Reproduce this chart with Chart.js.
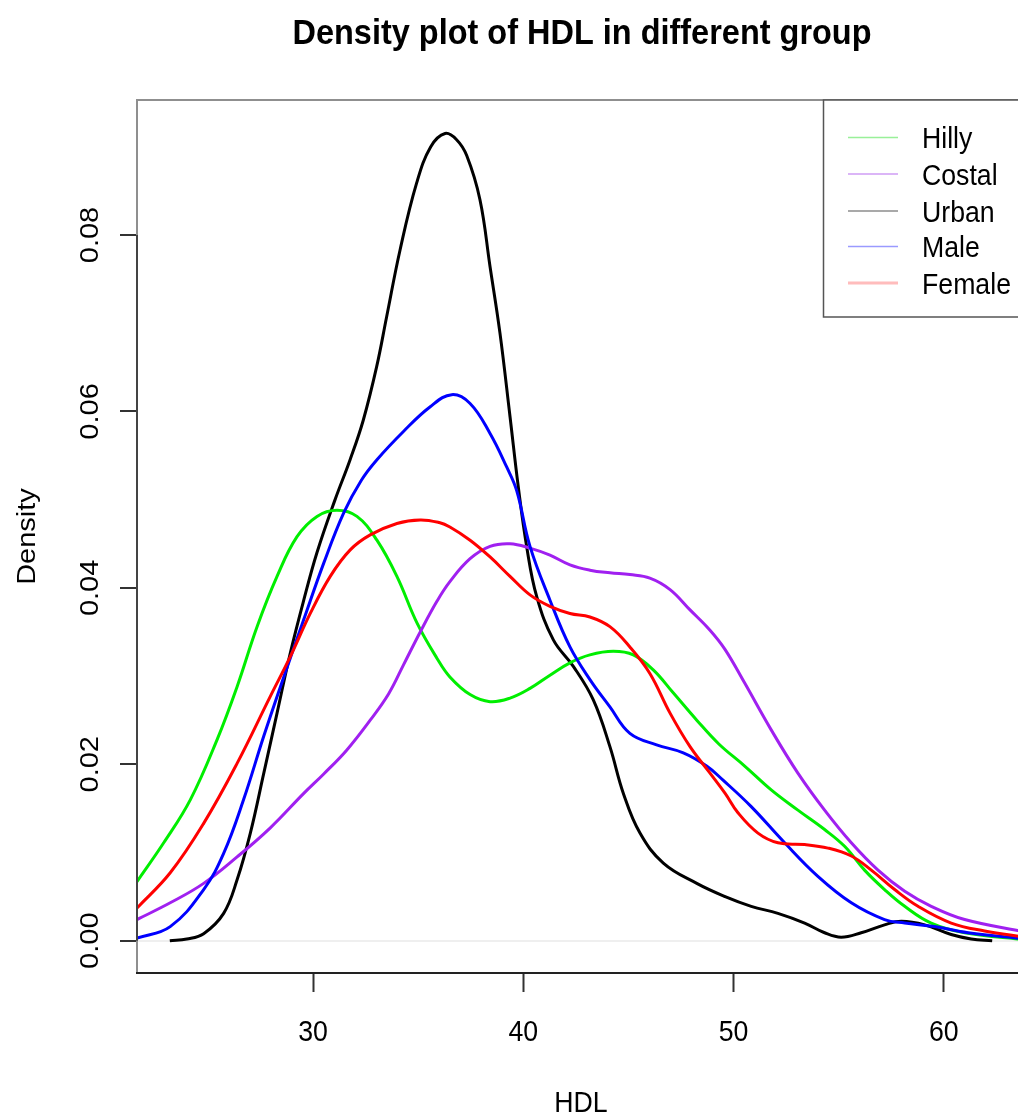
<!DOCTYPE html>
<html>
<head>
<meta charset="utf-8">
<script src="https://cdn.jsdelivr.net/npm/chart.js@4/dist/chart.umd.min.js"></script>
<style>
  html, body { margin: 0; padding: 0; background: #fff; overflow: hidden; }
  #wrap { width: 1030px; height: 1117px; position: relative; }
</style>
</head>
<body>
<div id="wrap"><canvas id="c"></canvas></div>
<script>
// ---------- data ----------
const chartTitle = "Density plot of HDL in different group";
const xTitle = "HDL";
const yTitle = "Density";
const xTicks = [30, 40, 50, 60];
const yTicks = [0, 0.02, 0.04, 0.06, 0.08];
const yTickLabels = ["0.00", "0.02", "0.04", "0.06", "0.08"];
const xRange = [21.63, 63.86];
const yRange = [-0.00366, 0.0953];

const seriesNames = ["Hilly", "Costal", "Urban", "Male", "Female"];
const seriesColors = ["#00ee00", "#a020f0", "#000000", "#0000ff", "#ff0000"];
const legendColors = ["#99f099", "#cf9cf5", "#8c8c8c", "#9a9aff", "#ffbcbc"];

const hillyX = [21.63,22.9,24.17,25.44,26.39,27.34,28.29,29.24,30.19,31.14,32.09,33.04,33.99,34.95,35.9,36.51,37.47,38.42,39.37,40.32,41.27,42.22,43.17,44.28,45.23,46.18,47.13,48.25,49.3,50.53,51.79,53.06,54.33,55.28,56.23,57.18,58.14,59.4,60.99,63.86];
const hillyY = [0.0067,0.0111,0.0160,0.0228,0.0288,0.0356,0.0413,0.0458,0.0481,0.0488,0.0481,0.0454,0.0413,0.0360,0.0320,0.0299,0.0279,0.0271,0.0275,0.0286,0.0301,0.0315,0.0324,0.0328,0.0324,0.0307,0.0281,0.0250,0.0223,0.0198,0.0171,0.0148,0.0126,0.0107,0.0080,0.0058,0.0039,0.0020,0.0009,0.0001];

const costalX = [21.63,23.21,24.8,26.39,27.97,29.56,30.51,31.6,32.72,33.6,34.31,35.1,35.9,36.51,37.47,38.42,39.37,40.32,41.27,42.22,43.17,44.12,45.07,46.02,46.98,47.93,48.88,49.6,50.53,51.79,53.06,54.33,55.6,56.87,58.14,59.4,60.99,63.86];
const costalY = [0.0024,0.0043,0.0065,0.0095,0.0128,0.0167,0.0189,0.0216,0.0250,0.0280,0.0313,0.0350,0.0385,0.0407,0.0433,0.0447,0.0450,0.0445,0.0437,0.0426,0.0420,0.0417,0.0415,0.0411,0.0398,0.0375,0.0352,0.0330,0.0292,0.0239,0.0190,0.0148,0.0111,0.0080,0.0056,0.0039,0.0024,0.0010];

const urbanX = [23.19,24.0,24.8,25.75,26.39,27.02,27.66,28.29,28.92,29.56,30.19,31.05,31.76,32.39,33.03,33.5,34.14,34.93,35.6,36.28,36.83,37.31,37.94,38.42,38.89,39.37,39.76,40.16,40.64,41.43,42.38,43.33,44.12,44.76,45.55,46.66,48.25,49.6,50.84,52.11,53.38,54.33,55.12,56.07,57.18,57.98,59.09,60.35,61.3,62.3];
const urbanY = [0.0000,0.0002,0.0008,0.0031,0.0069,0.0122,0.0190,0.0258,0.0326,0.0386,0.0440,0.0500,0.0545,0.0590,0.0651,0.0707,0.0783,0.0859,0.0900,0.0915,0.0908,0.0890,0.0840,0.0764,0.0689,0.0594,0.0515,0.0447,0.0390,0.0341,0.0311,0.0273,0.0220,0.0167,0.0122,0.0088,0.0065,0.0050,0.0039,0.0031,0.0020,0.0009,0.0004,0.0009,0.0018,0.0022,0.0018,0.0007,0.0002,0.0000];

const maleX = [21.63,23.21,24.8,25.75,26.7,27.66,28.61,29.56,30.51,31.46,32.3,33.03,34.29,35.56,36.6,37.47,38.42,39.21,39.69,40.32,41.27,42.22,43.17,44.12,45.07,46.34,47.61,48.72,49.5,50.84,52.43,54.01,55.6,57.18,58.14,59.56,61.15,63.86];
const maleY = [0.0003,0.0016,0.0058,0.0099,0.0160,0.0232,0.0299,0.0364,0.0428,0.0485,0.0522,0.0545,0.0577,0.0605,0.0619,0.0609,0.0575,0.0537,0.0510,0.0447,0.0386,0.0333,0.0296,0.0265,0.0235,0.0222,0.0213,0.0198,0.0182,0.0152,0.0111,0.0073,0.0043,0.0024,0.0020,0.0016,0.0009,0.0002];

const femaleX = [21.63,23.21,24.8,26.39,27.97,28.92,29.87,30.82,31.77,32.72,33.99,35.1,36.0,36.51,37.47,38.42,39.37,40.32,41.27,42.22,43.17,44.12,45.07,46.02,46.98,47.93,48.88,49.6,50.21,51.16,52.11,53.38,54.49,55.6,56.55,57.66,58.77,60.35,61.94,63.86];
const femaleY = [0.0037,0.0077,0.0133,0.0201,0.0277,0.0322,0.0371,0.0413,0.0443,0.0460,0.0473,0.0477,0.0474,0.0469,0.0454,0.0435,0.0413,0.0392,0.0379,0.0371,0.0367,0.0356,0.0333,0.0303,0.0258,0.0220,0.0190,0.0167,0.0145,0.0122,0.0111,0.0109,0.0105,0.0096,0.0080,0.0058,0.0039,0.0020,0.0011,0.0004];

// ---------- build ----------
const seriesX = [hillyX, costalX, urbanX, maleX, femaleX];
const seriesY = [hillyY, costalY, urbanY, maleY, femaleY];
const drawOrder = [3, 2, 4, 1, 0]; // lower = drawn on top

const FONT = '"Liberation Sans", Arial, Helvetica, sans-serif';
const SX = 0.92; // horizontal squeeze of the reference image text

function drawText(ctx, text, x, y, size, bold, align, rotate) {
  ctx.save();
  ctx.translate(x, y);
  ctx.scale(SX, 1);
  if (rotate) ctx.rotate(-Math.PI / 2);
  ctx.font = (bold ? 'bold ' : '') + size + 'px ' + FONT;
  ctx.textAlign = align;
  ctx.textBaseline = 'alphabetic';
  ctx.fillStyle = '#000';
  ctx.fillText(text, 0, 0);
  ctx.restore();
}

const decor = {
  id: 'decor',
  afterDraw(chart) {
    const ctx = chart.ctx;
    const a = chart.chartArea;
    const xs = chart.scales.x, ys = chart.scales.y;
    // plot box
    ctx.save();
    ctx.lineCap = 'butt';
    ctx.strokeStyle = '#8f8f8f';
    ctx.lineWidth = 2;
    ctx.beginPath();
    ctx.moveTo(a.left, a.bottom); ctx.lineTo(a.left, a.top); ctx.lineTo(a.right, a.top); ctx.lineTo(a.right, a.bottom);
    ctx.stroke();
    ctx.strokeStyle = '#222';
    ctx.beginPath();
    ctx.moveTo(a.left - 1, a.bottom); ctx.lineTo(a.right, a.bottom);
    ctx.stroke();
    // y axis segment (0 .. 0.08)
    ctx.strokeStyle = '#444';
    ctx.beginPath();
    ctx.moveTo(a.left, ys.getPixelForValue(yTicks[0]));
    ctx.lineTo(a.left, ys.getPixelForValue(yTicks[yTicks.length - 1]));
    ctx.stroke();
    ctx.restore();

    // tick labels
    xTicks.forEach(v => drawText(ctx, String(v), xs.getPixelForValue(v), 1041, 29, false, 'center', false));
    yTicks.forEach((v, i) => drawText(ctx, yTickLabels[i], 98, ys.getPixelForValue(v), 29, false, 'center', true));
    // axis titles
    drawText(ctx, xTitle, (a.left + a.right) / 2, 1112, 29, false, 'center', false);
    drawText(ctx, yTitle, 35, (a.top + a.bottom) / 2, 29, false, 'center', true);
    // main title
    drawText(ctx, chartTitle, (a.left + a.right) / 2 + 1, 44, 35.3, true, 'center', false);

    // legend
    const lx = 823, ly = a.top, lw = a.right - 823, lh = 217;
    ctx.save();
    ctx.fillStyle = '#fff';
    ctx.fillRect(lx, ly, lw, lh);
    ctx.strokeStyle = '#555';
    ctx.lineWidth = 1.5;
    ctx.strokeRect(lx + 0.5, ly, lw, lh);
    const rowY = [137.5, 174, 211, 246.5, 283];
    seriesNames.forEach((name, i) => {
      ctx.strokeStyle = legendColors[i];
      ctx.lineWidth = i === 4 ? 3 : 1.6;
      ctx.beginPath();
      ctx.moveTo(848, rowY[i]); ctx.lineTo(898, rowY[i]);
      ctx.stroke();
      drawText(ctx, name, 922, rowY[i] + 10.5, 29, false, 'left', false);
    });
    ctx.restore();
  }
};

const datasets = seriesNames.map((name, i) => ({
  label: name,
  data: seriesX[i].map((x, j) => ({ x: x, y: seriesY[i][j] })),
  borderColor: seriesColors[i],
  borderWidth: 3,
  pointRadius: 0,
  fill: false,
  tension: 0.4,
  order: drawOrder[i]
}));

new Chart(document.getElementById('c'), {
  type: 'line',
  data: { datasets: datasets },
  options: {
    responsive: true,
    maintainAspectRatio: false,
    animation: false,
    devicePixelRatio: 1,
    layout: { padding: { left: 0, right: 5, top: 100, bottom: 0 } },
    plugins: { legend: { display: false }, title: { display: false }, tooltip: { enabled: false } },
    scales: {
      x: {
        type: 'linear',
        min: xRange[0], max: xRange[1],
        afterBuildTicks: s => { s.ticks = xTicks.map(v => ({ value: v })); },
        afterFit: s => { s.height = 144; },
        ticks: { display: false },
        border: { display: false },
        grid: { drawOnChartArea: false, drawTicks: true, tickLength: 19, tickWidth: 2, tickColor: '#333', color: '#333' }
      },
      y: {
        type: 'linear',
        min: yRange[0], max: yRange[1],
        afterBuildTicks: s => { s.ticks = yTicks.map(v => ({ value: v })); },
        afterFit: s => { s.width = 137; },
        ticks: { display: false },
        border: { display: false },
        grid: {
          drawOnChartArea: true, drawTicks: true, tickLength: 17, tickWidth: 2, tickColor: '#333',
          lineWidth: 2,
          color: c => (c.tick && c.tick.value === 0) ? '#efefef' : 'rgba(0,0,0,0)'
        }
      }
    }
  },
  plugins: [decor]
});
</script>
</body>
</html>
